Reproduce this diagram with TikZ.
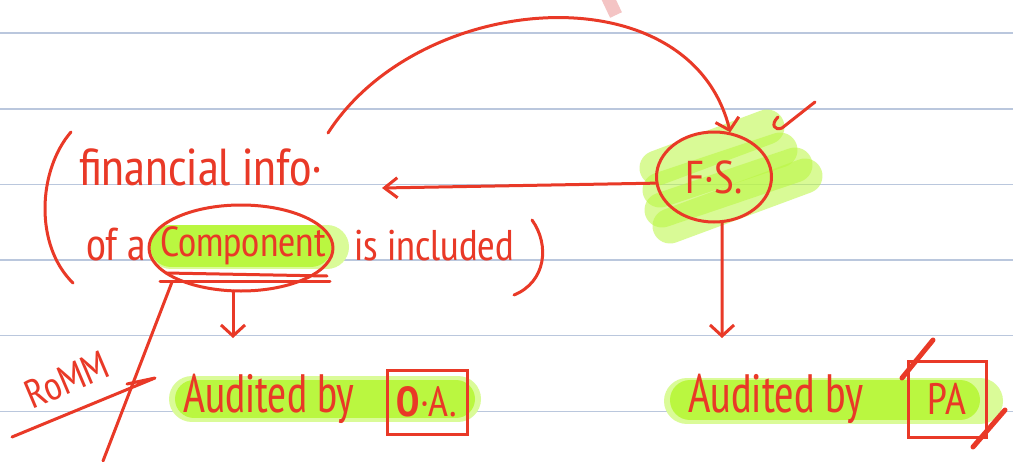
\documentclass[tikz,border=0pt]{standalone}
\usepackage{fontspec}
\setmainfont{PT Sans Narrow}
\usepackage{graphicx}
\usetikzlibrary{arrows.meta,shapes.geometric}
\definecolor{ink}{RGB}{233,57,39}
\definecolor{rule}{RGB}{186,199,221}
\definecolor{lime}{RGB}{186,247,64}
\definecolor{limelight}{RGB}{218,251,152}
\definecolor{smear}{RGB}{244,196,196}
\begin{document}
\begin{tikzpicture}[x=1pt,y=-1pt,
  ink/.style={draw=ink, line width=3pt, line cap=round, line join=round},
  barb/.style={-{Straight Barb[length=11pt,width=24pt]}},
  hw/.style={text=ink, inner sep=0pt},
  framed/.style={draw=ink, line width=3pt},
  band/.style={draw=lime, line cap=round},
  halo/.style={draw=limelight, line cap=round},
  marker/.style={draw=lime, draw opacity=0.55, line cap=round, line width=35pt},
  ruled/.style={draw=rule, line width=1.4pt}]
% page and ruling
\fill[white] (0,0) rectangle (1013,461);
\useasboundingbox (0,0) rectangle (1013,461);
\foreach \y in {33,108.8,184.4,260,335.6,411.2} \draw[ruled] (0,\y) -- (1013,\y);
\draw[draw=smear, line width=13pt] (607,-4) -- (616,15);

% highlighter strokes
\draw[halo, line width=44pt] (171,247) -- (327,247);
\draw[band, line width=42pt] (171,246) -- (311,246);
\draw[halo, line width=46pt] (192,399) -- (458,399);
\draw[band, line width=38pt] (194,399) -- (456,399);
\draw[halo, line width=46pt] (687,401) -- (980,401);
\draw[band, line width=40pt] (690,400) -- (960,400);
\draw[marker] (657,168) -- (767,127);
\draw[marker] (660,190) -- (780,150);
\draw[marker] (662,210) -- (795,165);
\draw[marker] (670,226) -- (805,176);

% text
\node[hw, anchor=base west, font=\fontsize{52}{58}\selectfont] (fin) at (79,185) {financial info·};
\node[hw, anchor=base west, font=\fontsize{46}{50}\selectfont] (ofa) at (86,260) {of a};
\node[hw, font=\fontsize{42}{48}\selectfont] (comp) at (243,246) {Component};
\draw[ink] (241,248) ellipse [x radius=92, y radius=43];
\node[hw, anchor=base west, font=\fontsize{43}{48}\selectfont] (incl) at (354,260) {is included};
\node[hw, ellipse, framed, minimum width=115pt, minimum height=90pt,
      font=\fontsize{46}{50}\selectfont] (fs) at (714,177) {F·S.};
\node[hw, anchor=base west, font=\fontsize{54}{60}\selectfont] (aud1) at (183,412) {\scalebox{0.86}[1]{Audited by}};
\node[hw, framed, minimum width=80pt, minimum height=64pt,
      font=\fontsize{42}{48}\selectfont] (oa) at (427,402) {\textbf{O}·A.};
\node[hw, anchor=base west, font=\fontsize{54}{60}\selectfont] (aud2) at (688,412) {\scalebox{0.88}[1]{Audited by}};
\node[hw, framed, minimum width=78pt, minimum height=76pt,
      font=\fontsize{44}{50}\selectfont] (pa) at (947,399) {PA};
\node[hw, rotate=23, font=\fontsize{40}{46}\selectfont] (romm) at (67,380) {RoMM};

% brackets and underlines
\draw[ink] (71,132) .. controls (38,170) and (34,245) .. (73,283);
\draw[ink] (532,220) .. controls (550,245) and (546,282) .. (514,295);
\draw[ink] (166,273) -- (327,276);
\draw[ink] (160,281) -- (330,281);

% connectors
\coordinate (arcstart) at (328,133);
\coordinate (finend) at (382,188);
\coordinate (compbot) at (233,291);
\coordinate (ltip) at (233,338);
\coordinate (rtip) at (722,338);
\draw[ink, barb] (arcstart) .. controls (420,-10) and (690,-30) .. (fs.70);
\draw[ink, -{Straight Barb[length=13pt,width=20pt]}] (fs.186) -- (finend);
\draw[ink, barb] (fs.280) -- (rtip);
\draw[ink, barb] (compbot) -- (ltip);

\coordinate (diagA) at (172,282);
\coordinate (diagB) at (103,461);
\draw[ink] (diagA) -- (diagB);
\coordinate (rA) at (12,437);
\coordinate (rB) at (155,378);
\coordinate (rC) at (127,384);
\draw[ink] (rA) -- (rB) -- (rC);

% tick and slashes
\draw[ink] (778,117) .. controls (770,125) and (775,131) .. (782,128) -- (815,102);
\draw[ink, line width=5pt] (902,378) -- (933,340);
\draw[ink, line width=5pt] (973,447) -- (1005,410);
\end{tikzpicture}
\end{document}
